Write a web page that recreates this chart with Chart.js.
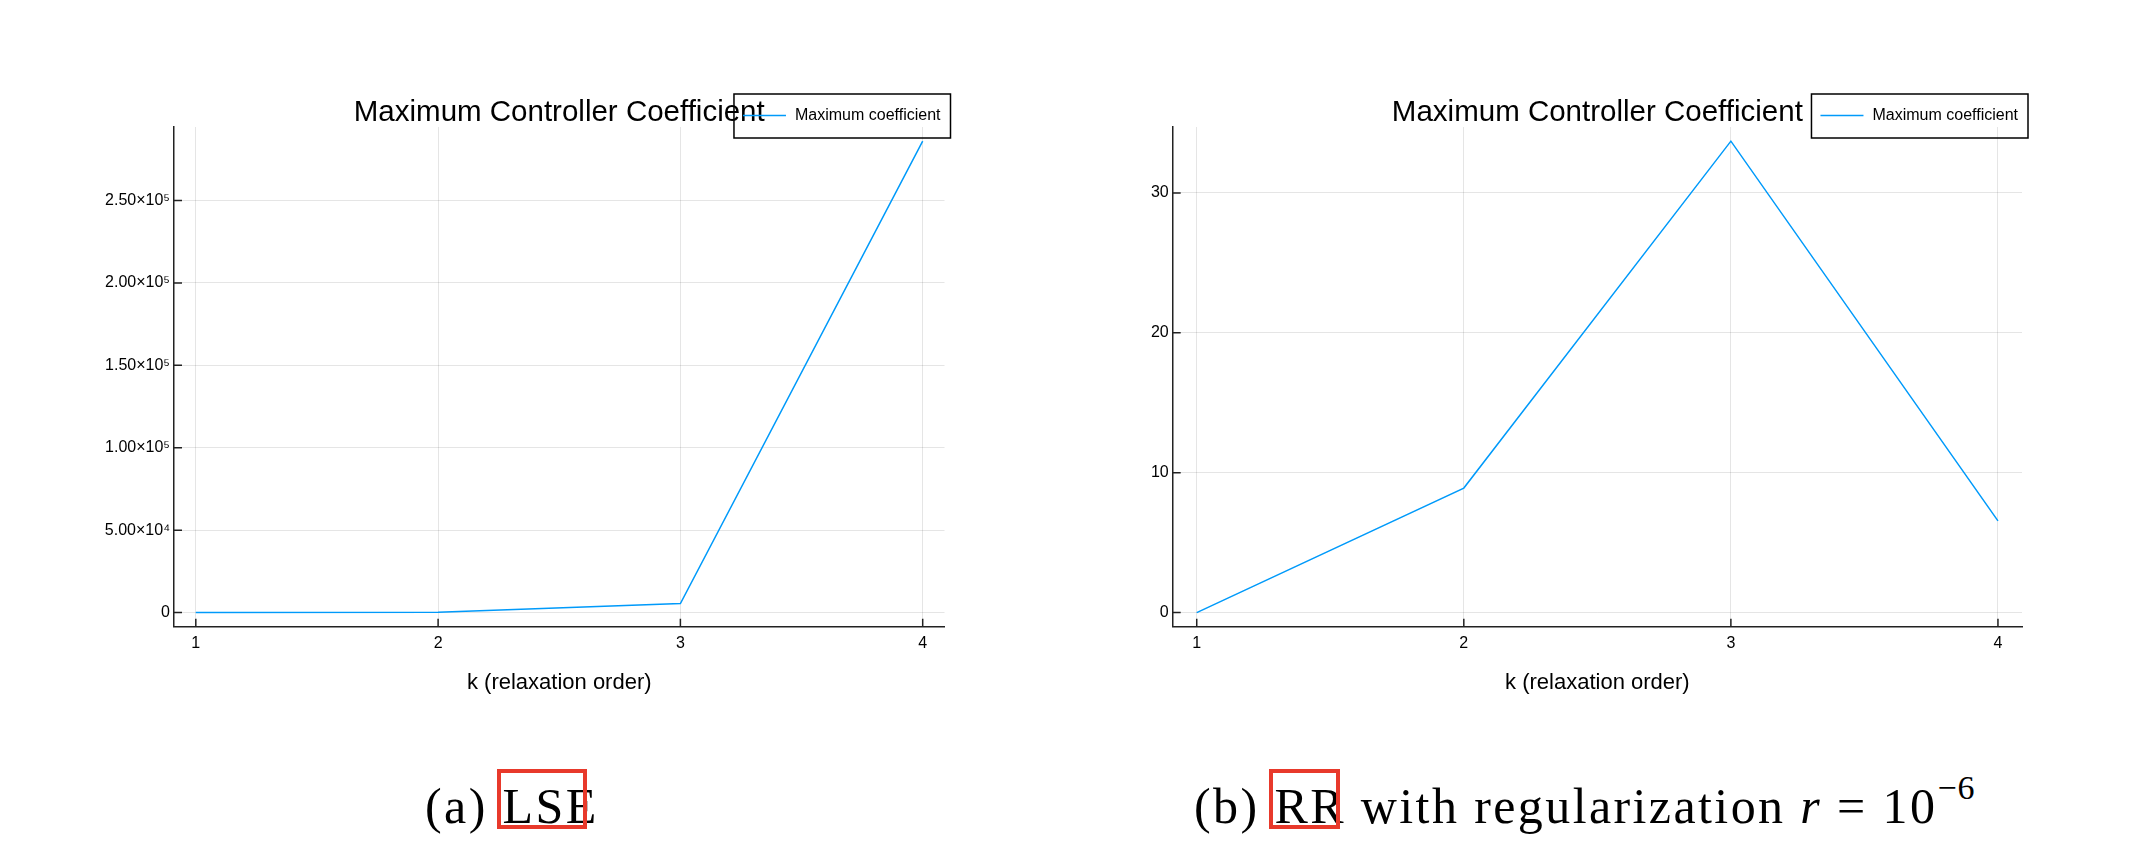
<!DOCTYPE html>
<html>
<head>
<meta charset="utf-8">
<script src="https://cdn.jsdelivr.net/npm/chart.js@4.4.0/dist/chart.umd.min.js"></script>
<style>
  body { margin: 0; background: #fff; width: 2140px; height: 868px; position: relative; overflow: hidden; }
  .panel { position: absolute; top: 0; width: 1070px; height: 740px; }
  .caption { position: absolute; font-family: 'Liberation Serif', 'Times New Roman', serif; font-size: 50px; line-height: 50px; letter-spacing: 2.4px; white-space: nowrap; color: #000; }
  .caption sup { font-size: 34px; line-height: 0; vertical-align: 24px; letter-spacing: 1px; }
  .mark { position: absolute; border: 4px solid #e8392b; box-sizing: border-box; }
</style>
</head>
<body>
<div class="panel" style="left:0"><canvas id="chartLSE" width="1070" height="740"></canvas></div>
<div class="panel" style="left:1070px"><canvas id="chartRR" width="1070" height="740"></canvas></div>

<div class="caption" style="left:425px; top:781px">(a) LSE</div>
<div class="mark" style="left:497px; top:769px; width:90px; height:60px"></div>
<div class="caption" style="left:1194px; top:781px">(b) RR with regularization <i>r</i> = 10<sup>−6</sup></div>
<div class="mark" style="left:1269px; top:769px; width:71px; height:60px"></div>

<script>
// relaxation order k
const kValues = [1, 2, 3, 4];

// maximum controller coefficient
const lseMax = [0, 200, 5500, 286000];
const rrMax = [0, 8.9, 33.7, 6.55];

const lseTicks = [0, 50000, 100000, 150000, 200000, 250000];
const lseTickLabels = ['0', '5.00×10⁴', '1.00×10⁵', '1.50×10⁵', '2.00×10⁵', '2.50×10⁵'];
const rrTicks = [0, 10, 20, 30];
const rrTickLabels = ['0', '10', '20', '30'];

const titleText = 'Maximum Controller Coefficient';
const seriesLabel = 'Maximum coefficient';
const xLabel = 'k (relaxation order)';

const lineColor = '#009afa';
const font = "'Liberation Sans', Arial, Helvetica, sans-serif";

// title, legend box and inward tick marks, Plots.jl style
const plotsDecor = {
  id: 'plotsDecor',
  afterDraw(chart) {
    const { ctx, chartArea } = chart;
    const xs = chart.scales.x, ys = chart.scales.y;
    ctx.save();

    // inward ticks
    ctx.strokeStyle = '#222';
    ctx.lineWidth = 1.5;
    ctx.beginPath();
    ys.ticks.forEach(t => {
      const y = ys.getPixelForValue(t.value);
      ctx.moveTo(chartArea.left, y);
      ctx.lineTo(chartArea.left + 8, y);
    });
    xs.ticks.forEach(t => {
      const x = xs.getPixelForValue(t.value);
      ctx.moveTo(x, chartArea.bottom);
      ctx.lineTo(x, chartArea.bottom - 8);
    });
    ctx.stroke();

    // title
    ctx.fillStyle = '#000';
    ctx.font = '29.5px ' + font;
    ctx.textAlign = 'center';
    ctx.textBaseline = 'middle';
    ctx.fillText(titleText, (chartArea.left + chartArea.right) / 2, chartArea.top - 14);

    // legend
    ctx.font = '16px ' + font;
    const tw = ctx.measureText(seriesLabel).width;
    const bw = 61 + tw + 10;
    const bx = chartArea.right + 6 - bw;
    const by = chartArea.top - 33;
    ctx.strokeStyle = '#000';
    ctx.lineWidth = 1.5;
    ctx.strokeRect(bx, by, bw, 44);
    ctx.strokeStyle = lineColor;
    ctx.beginPath();
    ctx.moveTo(bx + 9, by + 21.5);
    ctx.lineTo(bx + 52, by + 21.5);
    ctx.stroke();
    ctx.textAlign = 'left';
    ctx.fillText(seriesLabel, bx + 61, by + 22);

    ctx.restore();
  }
};

function makeChart(id, values, yTicks, yLabels, yWidth, padRight) {
  const lo = Math.min(...values), hi = Math.max(...values);
  const pad = 0.03 * (hi - lo);
  const xPad = 0.03 * (kValues[kValues.length - 1] - kValues[0]);

  return new Chart(document.getElementById(id), {
    type: 'line',
    data: {
      datasets: [{
        label: seriesLabel,
        data: kValues.map((k, i) => ({ x: k, y: values[i] })),
        borderColor: lineColor,
        borderWidth: 1.5,
        pointRadius: 0,
        tension: 0,
        fill: false
      }]
    },
    options: {
      responsive: false,
      animation: false,
      layout: { padding: { left: 0, right: padRight, top: 127, bottom: 0 } },
      plugins: {
        legend: { display: false },
        title: { display: false },
        tooltip: { enabled: false }
      },
      scales: {
        x: {
          type: 'linear',
          min: kValues[0] - xPad,
          max: kValues[kValues.length - 1] + xPad,
          afterBuildTicks: s => { s.ticks = kValues.map(v => ({ value: v })); },
          afterFit: s => { s.height = 113.3; },
          grid: { color: 'rgba(0,0,0,0.1)', lineWidth: 1, drawTicks: false },
          border: { color: '#222', width: 1.5 },
          ticks: { color: '#000', padding: 7, maxRotation: 0, font: { family: font, size: 16 }, callback: v => String(v) },
          title: { display: true, text: xLabel, color: '#000', font: { family: font, size: 22 }, padding: { top: 0, bottom: 44 } }
        },
        y: {
          min: lo - pad,
          max: hi + pad,
          afterBuildTicks: s => { s.ticks = yTicks.map(v => ({ value: v })); },
          afterFit: s => { s.width = yWidth; },
          grid: { color: 'rgba(0,0,0,0.1)', lineWidth: 1, drawTicks: false },
          border: { color: '#222', width: 1.5 },
          ticks: { color: '#000', padding: 4, font: { family: font, size: 16 }, callback: v => yLabels[yTicks.indexOf(v)] }
        }
      }
    },
    plugins: [plotsDecor]
  });
}

makeChart('chartLSE', lseMax, lseTicks, lseTickLabels, 174, 125.5);
makeChart('chartRR', rrMax, rrTicks, rrTickLabels, 102.7, 118);
</script>
</body>
</html>
